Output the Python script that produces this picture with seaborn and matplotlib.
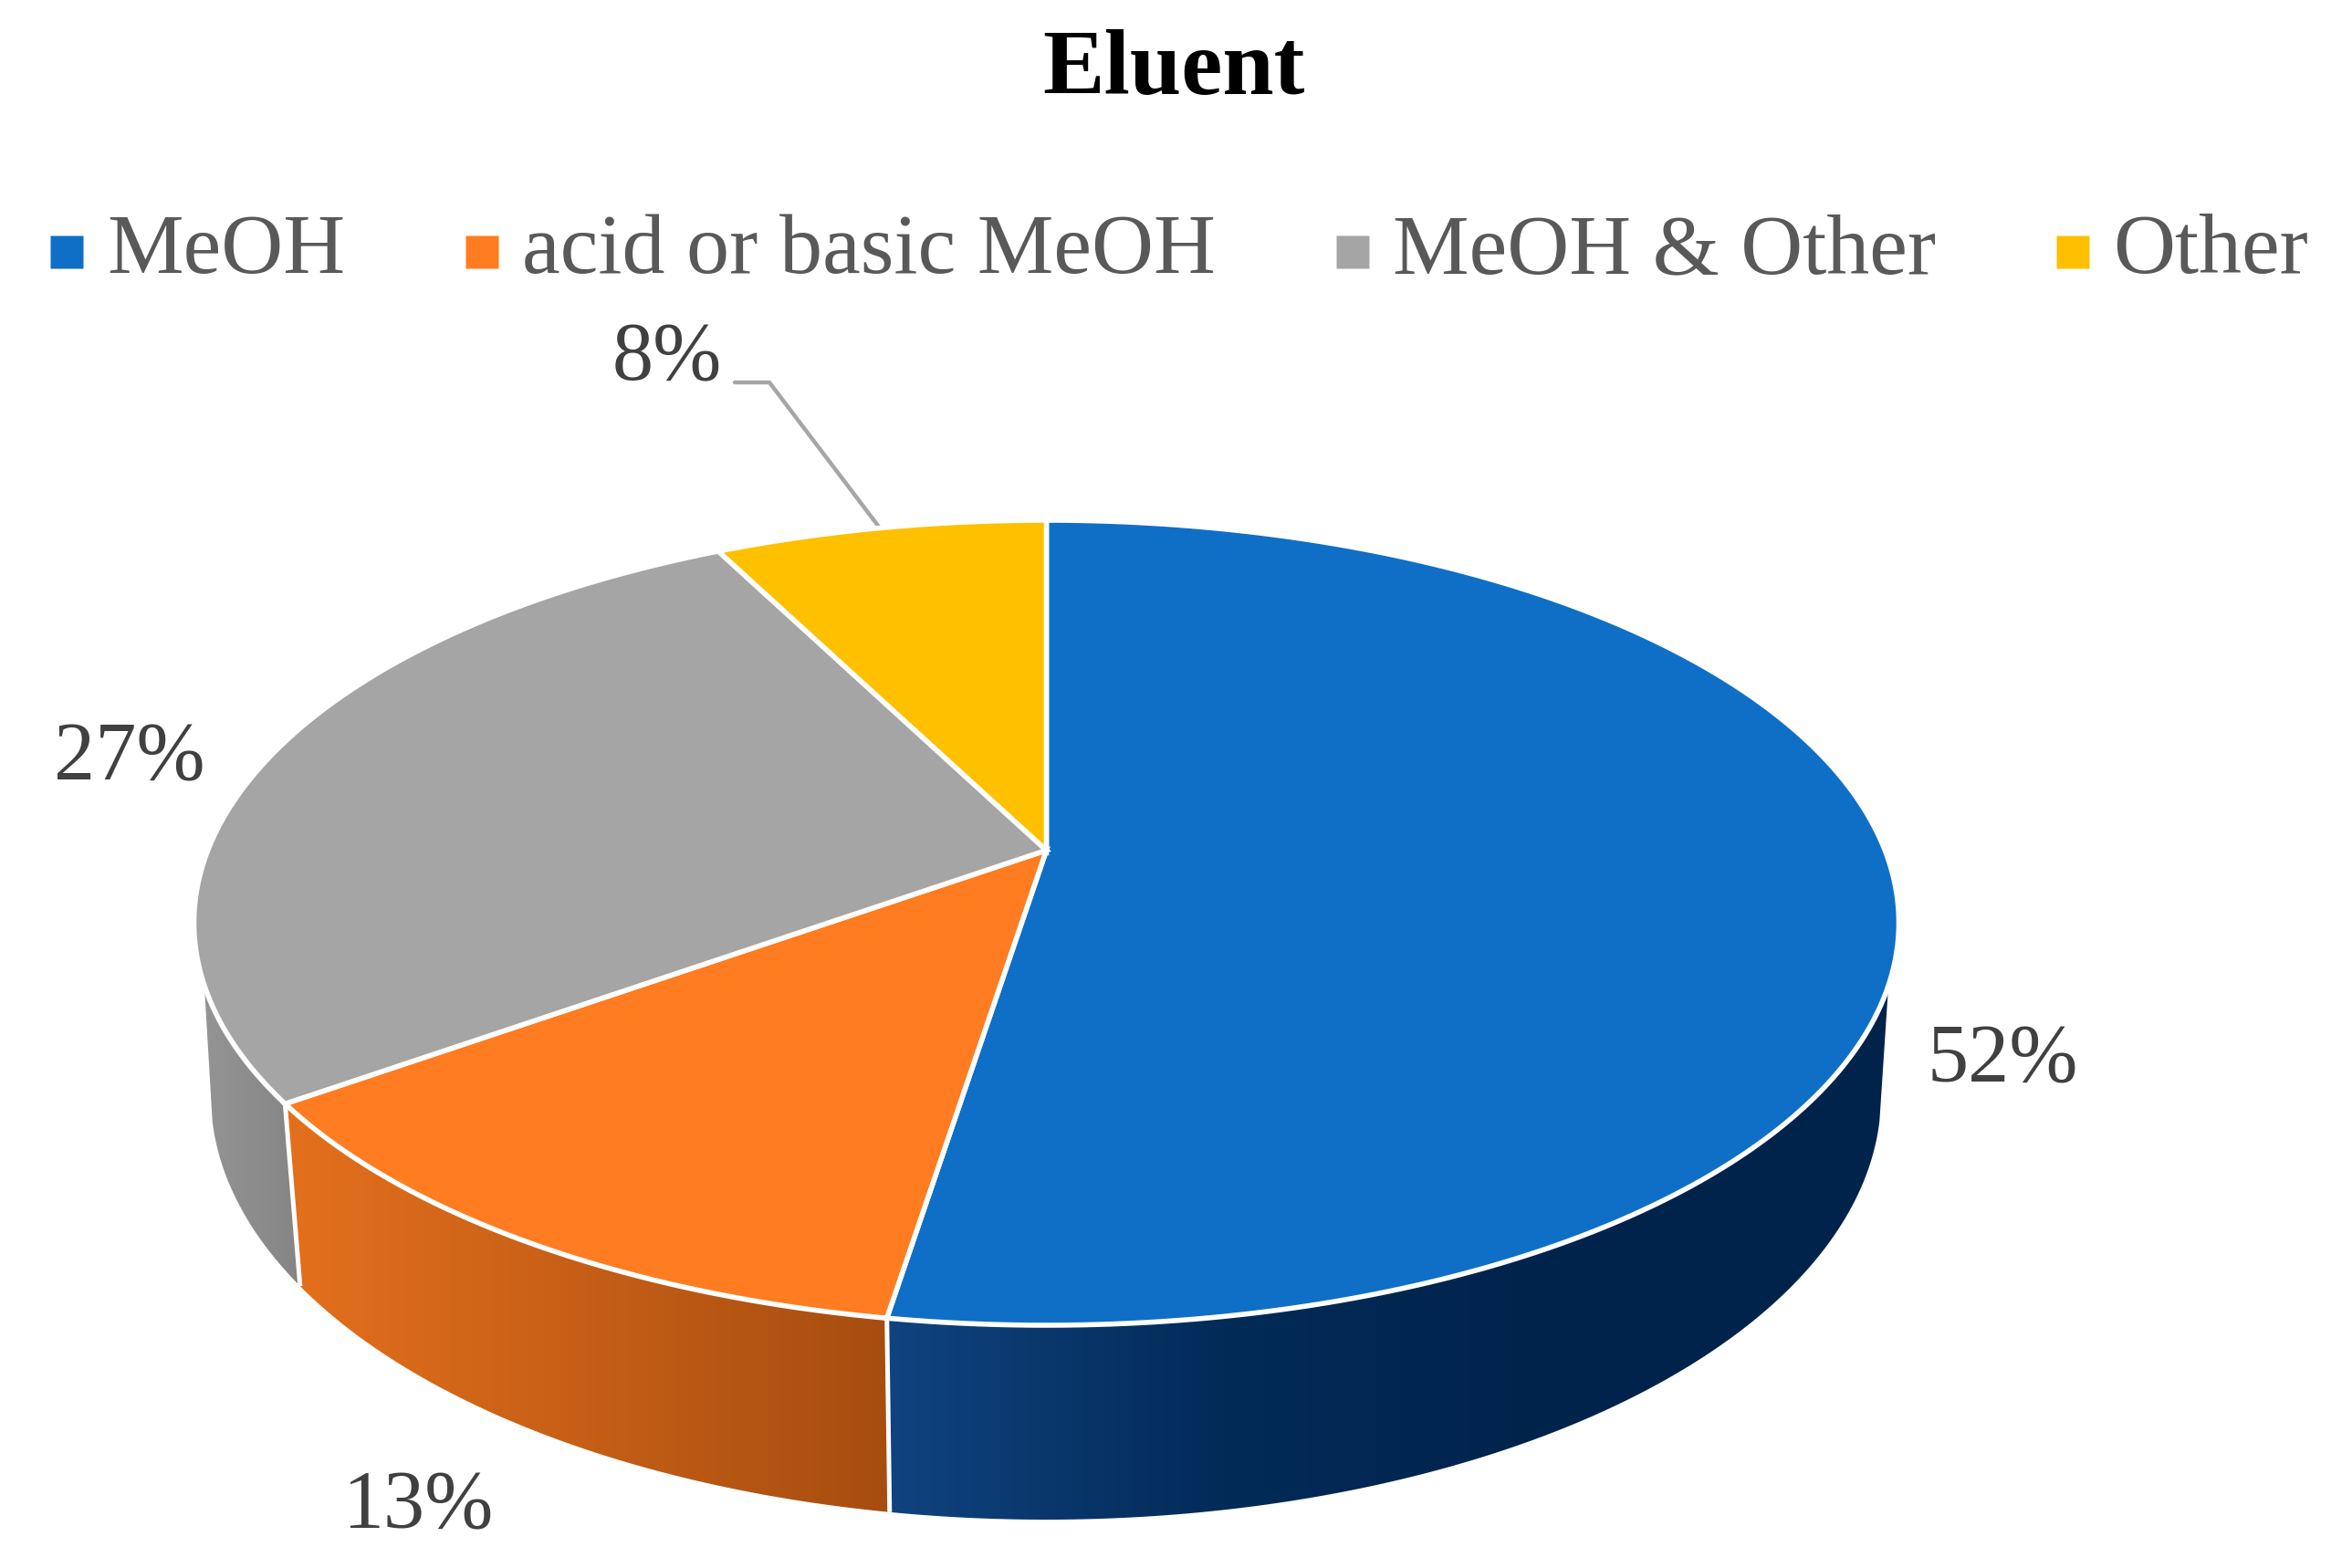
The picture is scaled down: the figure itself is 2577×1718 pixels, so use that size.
import numpy as np
import seaborn as sns
import matplotlib
matplotlib.use("Agg")
import matplotlib.pyplot as plt
from matplotlib.lines import Line2D
from matplotlib.markers import MarkerStyle
from matplotlib.patches import Polygon
from matplotlib.transforms import Affine2D

CATEGORIES = ["MeOH", "acid or basic MeOH", "MeOH & Other", "Other"]
VALUES = [52.5, 12.6, 27.4, 7.5]
PERCENT_LABELS = ["52%", "13%", "27%", "8%"]

TOP_COLORS = ["#0F6FC6", "#FF7C20", "#A5A5A5", "#FFC000"]
WALL_COLORS = [
    ["#10437F", "#022B58", "#00234B", "#00234B"],
    ["#E4701C", "#A64D10"],
    ["#949494", "#858585"],
    None,
]

# pie geometry, in pixels
TOP_C = (1146.5, 1011)
TOP_R = (934, 441)
LOW_C = (1146, 1200)
LOW_R = (915, 465)
PERSP = 0.18
VISIBLE_TOP = -0.155
VISIBLE_LOW = -0.06

LABEL_POS = [(2194, 1163), (458, 1652), (142, 832), (731, 394)]

sns.set_theme(style="white")
plt.rcParams["font.family"] = ["Liberation Serif", "DejaVu Serif"]

fig = plt.figure(figsize=(25.77, 17.18), dpi=100)
ax = fig.add_axes([0, 0, 1, 1])
ax.set_xlim(0, 2577)
ax.set_ylim(1718, 0)
ax.axis("off")


def unit_point(turn):
    # turn is clockwise from 12 o'clock, the circle is bent so the middle
    # of the pie sits behind the middle of the ellipse
    x = np.sin(turn)
    y = np.cos(turn)
    d = 1 + PERSP * y
    return x * np.sqrt(1 - PERSP ** 2) / d, (y + PERSP) / d


def on_plane(ux, uy, c, r):
    return c[0] + r[0] * ux, c[1] - r[1] * uy


edges = np.cumsum([0] + VALUES) / 100 * 2 * np.pi

# side walls first
for i, colors in enumerate(WALL_COLORS):
    if colors is None:
        continue
    turn = np.linspace(edges[i], edges[i + 1], 1500)
    ux, uy = unit_point(turn)
    top = uy <= VISIBLE_TOP
    low = uy <= VISIBLE_LOW
    tx, ty = on_plane(ux[top], uy[top], TOP_C, TOP_R)
    lx, ly = on_plane(ux[low], uy[low], LOW_C, LOW_R)
    pts = np.vstack([np.column_stack([tx, ty]), np.column_stack([lx, ly])[::-1]])
    clip = Polygon(pts, closed=True, facecolor="none", edgecolor="none", transform=ax.transData)
    ax.add_patch(clip)
    cmap = sns.blend_palette(colors, as_cmap=True)
    ramp = np.linspace(0, 1, 256).reshape(1, -1)
    im = ax.imshow(ramp, cmap=cmap, aspect="auto", zorder=1,
                   extent=(pts[:, 0].min(), pts[:, 0].max(), pts[:, 1].max(), pts[:, 1].min()))
    im.set_clip_path(clip)

ax.set_xlim(0, 2577)
ax.set_ylim(1718, 0)

# white lines between the walls
for e in edges[1:3]:
    ux, uy = unit_point(e)
    tx, ty = on_plane(ux, uy, TOP_C, TOP_R)
    lx, ly = on_plane(ux, uy, LOW_C, LOW_R)
    ax.plot([tx, lx], [ty, ly], color="white", lw=3.6, zorder=2, solid_capstyle="butt")

# top face
for i, val in enumerate(VALUES):
    turn = np.linspace(edges[i], edges[i + 1], 800)
    ux, uy = unit_point(turn)
    ex, ey = on_plane(ux, uy, TOP_C, TOP_R)
    ax0, ay0 = on_plane(0, PERSP, TOP_C, TOP_R)
    pts = np.vstack([[ax0, ay0], np.column_stack([ex, ey])])
    ax.add_patch(Polygon(pts, closed=True, facecolor=TOP_COLORS[i], edgecolor="white",
                         lw=4, joinstyle="miter", zorder=3))

# leader for the small slice
ux, uy = unit_point((edges[3] + edges[4]) / 2)
mx, my = on_plane(ux, uy, TOP_C, TOP_R)
ax.plot([805, 843, mx], [419, 419, my], color="#A6A6A6", lw=3.2, zorder=2)

# percent labels
for txt, pos in zip(PERCENT_LABELS, LABEL_POS):
    ax.text(pos[0], pos[1], txt, fontsize=65, color="#404040",
            ha="center", va="center", zorder=4)

ax.text(1286, 103, "Eluent", fontsize=73, fontweight="bold", color="black",
        ha="center", va="baseline")

# squares sit a bit lower than the default handle position
low_square = Affine2D().translate(0, -0.27)
handles = [Line2D([], [], linestyle="none", marker=MarkerStyle("s", transform=low_square),
                  markersize=26, markerfacecolor=c, markeredgecolor="none") for c in TOP_COLORS]
leg = ax.legend(handles, CATEGORIES, ncol=4, loc="center", frameon=False,
                bbox_to_anchor=(1292 / 2577, 1 - 276 / 1718), fontsize=67.7,
                handlelength=0.38, handletextpad=0.28, columnspacing=1.40,
                borderpad=0, numpoints=1)
for t in leg.get_texts():
    t.set_color("#595959")

fig.savefig("out.png", dpi=100)
